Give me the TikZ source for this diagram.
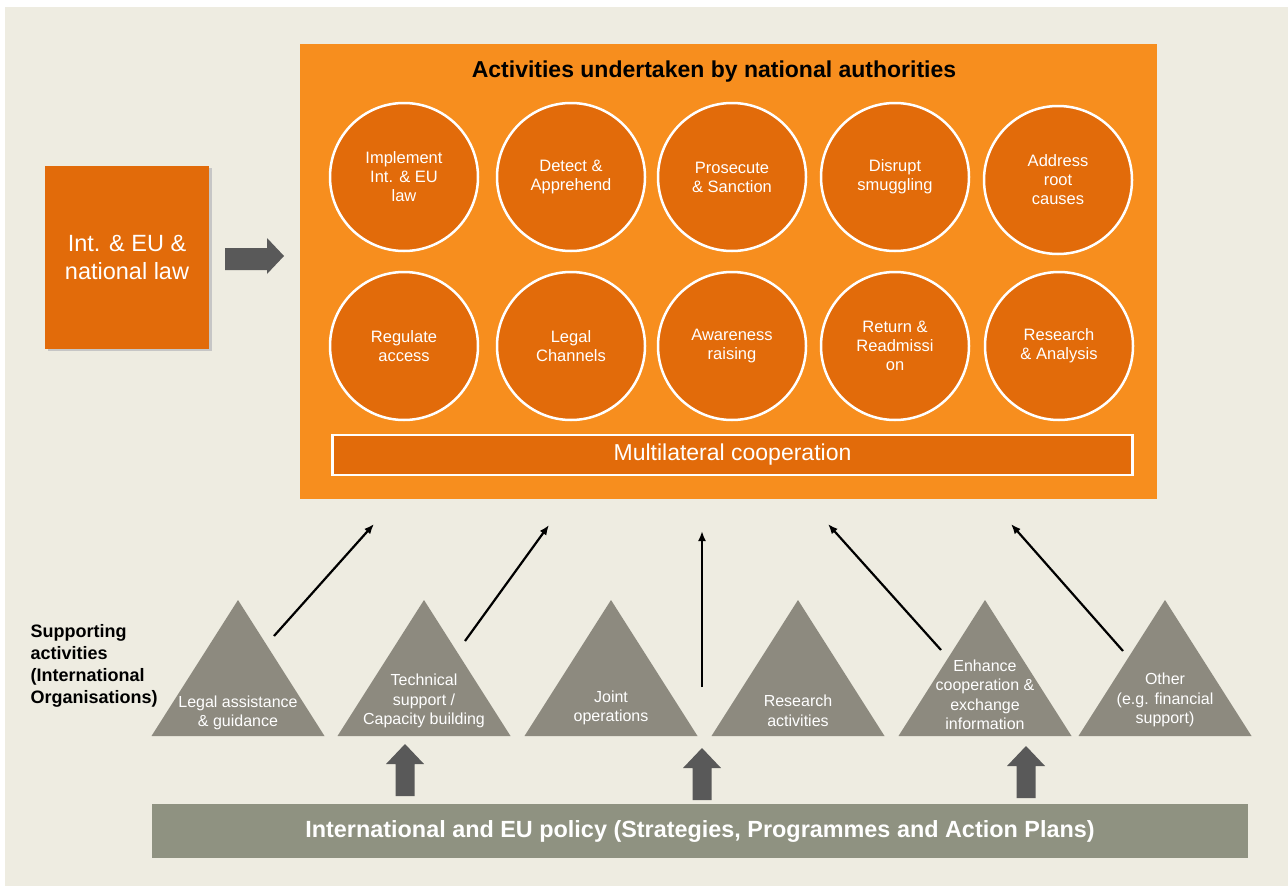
\documentclass[tikz,border=0pt]{standalone}
\usepackage{fontspec}
\setmainfont{Liberation Sans}
\usepackage{tikz}
\usetikzlibrary{arrows.meta}
\usetikzlibrary{positioning}

\definecolor{bgbeige}{RGB}{238,236,225}
\definecolor{boxorange}{RGB}{247,142,30}
\definecolor{darkorange}{RGB}{226,107,10}
\definecolor{trigray}{RGB}{141,138,127}
\definecolor{policygray}{RGB}{143,146,129}
\definecolor{arrowgray}{RGB}{89,89,89}

\tikzset{activity/.style = {circle, draw=white, line width=2.5pt, fill=darkorange,
                            minimum size=148pt, inner sep=0pt, text=white, align=center,
                            font=\fontsize{16.5}{19}\selectfont},
         support/.style = {text=white, align=center, inner sep=0pt,
                           font=\fontsize{16}{19.5}\selectfont},
         feed/.style = {-{Latex[length=10pt,width=8pt]}, line width=2.2pt}}

\begin{document}
\begin{tikzpicture}[x=1pt, y=-1pt]
      \useasboundingbox (0,0) rectangle (1288,886);
      \fill [white] (0,0) rectangle (1288,886);
      \fill [bgbeige] (5,7) rectangle (1288,886);

      % national law box
      \fill [gray!45] (48,168) rectangle (212,351);
      \node [fill=darkorange, minimum width=164pt, minimum height=183pt, text=white, align=center,
             font=\fontsize{23.5}{28}\selectfont] (law) at (127,257.5) {Int. \& EU \&\\national law};
      \fill [arrowgray] (225,248) -- (267,248) -- (267,238) -- (284,256) -- (267,274) -- (267,270) -- (225,270) -- cycle;

      % activities of national authorities
      \node [fill=boxorange, minimum width=857pt, minimum height=455pt] (authorities) at (728.5,271.5) {};
      \node [font=\bfseries\fontsize{23}{26}\selectfont] (title) at (714,72) {Activities undertaken by national authorities};

      \node [activity] (implement) at (404,177) {Implement\\Int. \& EU\\law};
      \node [activity] (detect) at (571,177) {Detect \&\\Apprehend};
      \node [activity] (prosecute) at (732,177) {Prosecute\\\& Sanction};
      \node [activity] (disrupt) at (895,177) {Disrupt\\smuggling};
      \node [activity] (address) at (1058,180) {Address\\root\\causes};
      \node [activity] (regulate) at (404,346) {Regulate\\access};
      \node [activity] (channels) at (571,346) {Legal\\Channels};
      \node [activity] (awareness) at (732,346) {Awareness\\raising};
      \node [activity] (return) at (895,346) {Return \&\\Readmissi\\on};
      \node [activity] (research) at (1059,346) {Research\\\& Analysis};

      \node [draw=white, line width=2.5pt, fill=darkorange, minimum width=800pt, minimum height=40pt,
             text=white, font=\fontsize{23}{26}\selectfont] (multilateral) at (732.5,455) {Multilateral cooperation};

      % supporting activities
      \node [anchor=west, align=left, font=\bfseries\fontsize{18}{22}\selectfont] (supporting) at (27,666)
            {Supporting\\activities\\(International\\Organisations)};

      \foreach \x in {238, 424, 611, 798, 985, 1165}
        \fill [trigray] (\x-86.5,736) -- (\x,600) -- (\x+86.5,736) -- cycle;

      \node [support] (legal) at (238,713) {Legal assistance\\\& guidance};
      \node [support] (technical) at (424,701) {Technical\\support /\\Capacity building};
      \node [support] (joint) at (611,708) {Joint\\operations};
      \node [support] (researchact) at (798,711) {Research\\activities};
      \node [support] (enhance) at (985,695) {Enhance\\cooperation \&\\exchange\\information};
      \node [support] (other) at (1165,700) {Other\\(e.g. financial\\support)};

      \foreach \i/\sx/\sy/\ex/\ey in {1/274/636/374/524, 2/465/641/549/525, 3/702/687/702/531,
                                       4/941/650/828/524, 5/1123/651/1011/524} {
        \coordinate (from\i) at (\sx,\sy);
        \coordinate (to\i) at (\ex,\ey);
        \draw [feed] (from\i) -- (to\i);
      }

      % policy
      \node [fill=policygray, minimum width=1096pt, minimum height=54pt, text=white,
             font=\bfseries\fontsize{23.4}{26}\selectfont] (policy) at (700,831)
            {International and EU policy (Strategies, Programmes and Action Plans)};

      \foreach \x/\ya in {405/744, 702/748, 1026/746}
        \fill [arrowgray] (\x-9.5,\ya+52) -- (\x-9.5,\ya+20) -- (\x-19,\ya+20) -- (\x,\ya)
                          -- (\x+19,\ya+20) -- (\x+9.5,\ya+20) -- (\x+9.5,\ya+52) -- cycle;
    \end{tikzpicture}
\end{document}
